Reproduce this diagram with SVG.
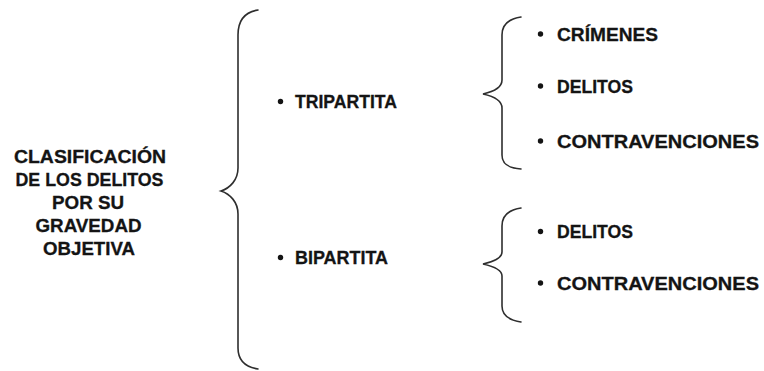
<svg xmlns="http://www.w3.org/2000/svg" width="764" height="371" viewBox="0 0 764 371">
  <style>
    .t { font-family: "Liberation Sans", Arial, sans-serif; font-weight: bold; font-size: 18.5px; fill: #141414; stroke: #141414; stroke-width: 0.3; }
    .c { text-anchor: middle; }
    .brace { fill: none; stroke: #2e2e2e; stroke-width: 1.6; stroke-linecap: round; }
    .dot { fill: #141414; }
  </style>
  <rect width="764" height="371" fill="#ffffff"/>

  <!-- braces joining each level -->
  <g id="connectors">
    <path class="brace" d="M258,10 C245,12 238,20 238,35 L238,168 C238,180 230,188 221,191 C230,194 238,202 238,214 L238,348 C238,360 245,367 258,369"/>
    <path class="brace" d="M521,17 C508,19 502,25 502,35 L502,80 C502,88 492,92 483,94 C492,96 502,100 502,108 L502,155 C502,164 508,168 521,169"/>
    <path class="brace" d="M521,208 C508,210 502,216 502,226 L502,252 C502,259 492,262 483,264 C492,266 502,269 502,276 L502,306 C502,314 508,320 521,322"/>
  </g>

  <!-- root -->
  <g id="root">
    <text class="t c" x="90" y="163" textLength="152" lengthAdjust="spacingAndGlyphs">CLASIFICACIÓN</text>
    <text class="t c" x="89.5" y="186" textLength="148" lengthAdjust="spacingAndGlyphs">DE LOS DELITOS</text>
    <text class="t c" x="88" y="209" textLength="72" lengthAdjust="spacingAndGlyphs">POR SU</text>
    <text class="t c" x="88.5" y="232" textLength="106" lengthAdjust="spacingAndGlyphs">GRAVEDAD</text>
    <text class="t c" x="89" y="255" textLength="92" lengthAdjust="spacingAndGlyphs">OBJETIVA</text>
  </g>

  <!-- first-level categories -->
  <g id="tripartita">
    <circle class="dot" cx="280.5" cy="101.5" r="2.7"/>
    <text class="t" x="295" y="108" textLength="102" lengthAdjust="spacingAndGlyphs">TRIPARTITA</text>
  </g>
  <g id="bipartita">
    <circle class="dot" cx="280.5" cy="257.5" r="2.7"/>
    <text class="t" x="295" y="264" textLength="93" lengthAdjust="spacingAndGlyphs">BIPARTITA</text>
  </g>

  <!-- tripartite items -->
  <g id="tri-crimenes">
    <circle class="dot" cx="540.5" cy="34" r="2.7"/>
    <text class="t" x="557" y="40.5" textLength="101" lengthAdjust="spacingAndGlyphs">CRÍMENES</text>
  </g>
  <g id="tri-delitos">
    <circle class="dot" cx="540.5" cy="86" r="2.7"/>
    <text class="t" x="557" y="92.5" textLength="76" lengthAdjust="spacingAndGlyphs">DELITOS</text>
  </g>
  <g id="tri-contravenciones">
    <circle class="dot" cx="540.5" cy="141" r="2.7"/>
    <text class="t" x="557" y="147.5" textLength="202" lengthAdjust="spacingAndGlyphs">CONTRAVENCIONES</text>
  </g>

  <!-- bipartite items -->
  <g id="bi-delitos">
    <circle class="dot" cx="540.5" cy="231.5" r="2.7"/>
    <text class="t" x="557" y="238" textLength="76" lengthAdjust="spacingAndGlyphs">DELITOS</text>
  </g>
  <g id="bi-contravenciones">
    <circle class="dot" cx="540.5" cy="283" r="2.7"/>
    <text class="t" x="557" y="289.5" textLength="202" lengthAdjust="spacingAndGlyphs">CONTRAVENCIONES</text>
  </g>
</svg>
